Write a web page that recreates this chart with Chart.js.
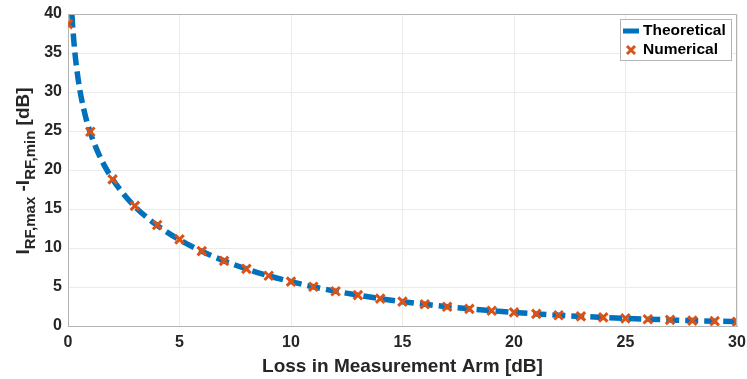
<!DOCTYPE html>
<html>
<head>
<meta charset="utf-8">
<script src="https://cdn.jsdelivr.net/npm/chart.js@4"></script>
<style>
html,body{margin:0;padding:0;background:#fff;}
#wrap{width:747px;height:379px;position:relative;}
</style>
</head>
<body>
<div id="wrap"><canvas id="c" width="747" height="379"></canvas></div>
<script>
// Theoretical curve
const theoryX = [0.1, 0.15, 0.2, 0.3, 0.4, 0.5, 0.6, 0.8, 1, 1.25, 1.5, 2, 2.5, 3, 3.5, 4, 5, 6, 7, 8, 9, 10, 11, 12, 13, 14, 15, 16, 17, 18, 19, 20, 21, 22, 23, 24, 25, 26, 27, 28, 29, 30];
const theoryY = [44.8, 41.3, 38.8, 35.3, 32.8, 30.8, 29.2, 26.7, 24.8, 22.9, 21.3, 18.8, 16.9, 15.3, 14.0, 12.9, 11.05, 9.57, 8.35, 7.32, 6.44, 5.69, 5.03, 4.46, 3.96, 3.51, 3.12, 2.78, 2.47, 2.20, 1.96, 1.74, 1.55, 1.38, 1.23, 1.10, 0.98, 0.87, 0.78, 0.69, 0.62, 0.55];
// Numerical points
const numX = [0, 1, 2, 3, 4, 5, 6, 7, 8, 9, 10, 11, 12, 13, 14, 15, 16, 17, 18, 19, 20, 21, 22, 23, 24, 25, 26, 27, 28, 29, 30];
const numY = [38.7, 24.9, 18.8, 15.4, 12.95, 11.1, 9.6, 8.35, 7.32, 6.44, 5.69, 5.03, 4.46, 3.96, 3.51, 3.12, 2.78, 2.47, 2.20, 1.96, 1.74, 1.55, 1.38, 1.23, 1.10, 0.98, 0.87, 0.78, 0.69, 0.62, 0.55];
const seriesNames = ['Theoretical', 'Numerical'];
const xTitle = 'Loss in Measurement Arm [dB]';

const BLUE = '#0072BD', ORANGE = '#D95319', TXT = '#262626';
const FONT = '"Liberation Sans", Arial, Helvetica, sans-serif';

const decor = {
  id: 'decor',
  afterDraw(chart) {
    const ctx = chart.ctx, a = chart.chartArea;
    ctx.save();
    // box top/right
    ctx.strokeStyle = '#b4b4b4'; ctx.lineWidth = 1;
    ctx.beginPath();
    ctx.moveTo(a.left, a.top + 0.5); ctx.lineTo(a.right - 0.5, a.top + 0.5); ctx.lineTo(a.right - 0.5, a.bottom);
    ctx.stroke();
    // legend
    const lx = 620, ly = 19, lw = 111, lh = 41;
    ctx.fillStyle = '#fff'; ctx.fillRect(lx, ly, lw, lh);
    ctx.strokeStyle = '#b4b4b4'; ctx.strokeRect(lx + 0.5, ly + 0.5, lw, lh);
    ctx.strokeStyle = BLUE; ctx.lineWidth = 5;
    ctx.beginPath(); ctx.moveTo(623, 31); ctx.lineTo(639, 31); ctx.stroke();
    ctx.strokeStyle = ORANGE; ctx.lineWidth = 3;
    const cx = 631, cy = 50, r = 4;
    ctx.beginPath(); ctx.moveTo(cx - r, cy - r); ctx.lineTo(cx + r, cy + r);
    ctx.moveTo(cx + r, cy - r); ctx.lineTo(cx - r, cy + r); ctx.stroke();
    ctx.fillStyle = '#000'; ctx.font = 'bold 15.5px ' + FONT;
    ctx.textAlign = 'left'; ctx.textBaseline = 'middle';
    ctx.fillText(seriesNames[0], 643, 31);
    ctx.fillText(seriesNames[1], 643, 50);
    // y title with subscripts
    const parts = [
      ['I', 19, 0], ['RF,max', 15, 6], [' -I', 19, 0], ['RF,min', 15, 6], [' [dB]', 19, 0]
    ];
    let total = 0;
    parts.forEach(p => { ctx.font = 'bold ' + p[1] + 'px ' + FONT; total += ctx.measureText(p[0]).width; });
    ctx.translate(29, 171);
    ctx.rotate(-Math.PI / 2);
    ctx.fillStyle = TXT; ctx.textBaseline = 'alphabetic'; ctx.textAlign = 'left';
    let x = -total / 2;
    parts.forEach(p => {
      ctx.font = 'bold ' + p[1] + 'px ' + FONT;
      ctx.fillText(p[0], x, p[2]);
      x += ctx.measureText(p[0]).width;
    });
    ctx.restore();
  }
};

new Chart(document.getElementById('c'), {
  type: 'scatter',
  data: {
    datasets: [
      {
        label: seriesNames[0],
        data: theoryX.map((v, i) => ({x: v, y: theoryY[i]})),
        showLine: true, borderColor: BLUE, backgroundColor: BLUE,
        borderWidth: 5.5, borderDash: [13, 6], pointRadius: 0,
        cubicInterpolationMode: 'monotone', order: 2
      },
      {
        label: seriesNames[1],
        data: numX.map((v, i) => ({x: v, y: numY[i]})),
        showLine: false, pointStyle: 'crossRot', pointRadius: 6,
        borderColor: ORANGE, backgroundColor: ORANGE, pointBorderWidth: 3,
        order: 1
      }
    ]
  },
  options: {
    responsive: false, animation: false, devicePixelRatio: 1,
    layout: {padding: {top: 14, right: 0, left: 0, bottom: 0}},
    plugins: {legend: {display: false}, tooltip: {enabled: false}},
    scales: {
      x: {
        type: 'linear', min: 0, max: 30,
        ticks: {stepSize: 5, color: TXT, font: {family: FONT, size: 16, weight: 'bold'}, padding: 7, maxRotation: 0},
        grid: {color: '#ebebeb', drawTicks: false},
        border: {color: '#b4b4b4', width: 1},
        title: {display: true, text: xTitle, color: TXT, font: {family: FONT, size: 19, weight: 'bold'}, padding: {top: 0, bottom: 1}},
        afterFit(s) { s.height = 53; s.paddingRight = 10; s.paddingLeft = 0; }
      },
      y: {
        type: 'linear', min: 0, max: 40,
        ticks: {stepSize: 5, color: TXT, font: {family: FONT, size: 16, weight: 'bold'}, padding: 6},
        grid: {color: '#ebebeb', drawTicks: false},
        border: {color: '#b4b4b4', width: 1},
        afterFit(s) { s.width = 68; s.paddingTop = 0; s.paddingBottom = 0; }
      }
    }
  },
  plugins: [decor]
});
</script>
</body>
</html>
